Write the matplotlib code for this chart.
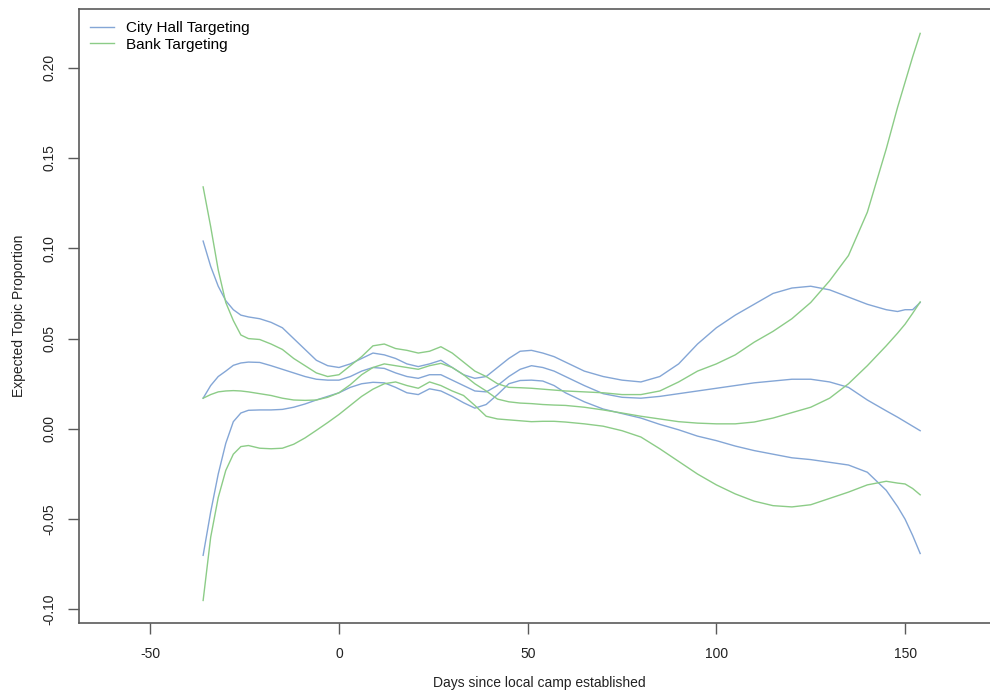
import matplotlib
matplotlib.use("Agg")
import matplotlib.pyplot as plt
import numpy as np

plt.rcParams['font.family'] = ['Liberation Sans', 'DejaVu Sans']

# Days since local camp established (shared grid for all estimates)
days = [-36, -34, -32, -30, -28, -26, -24, -21, -18, -15, -12, -9, -6, -3,
        0, 3, 6, 9, 12, 15, 18, 21, 24, 27, 30, 33, 36, 39, 42, 45, 48, 51,
        54, 57, 60, 65, 70, 75, 80, 85, 90, 95, 100, 105, 110, 115, 120, 125,
        130, 135, 140, 145, 148, 150, 152, 154]

# City Hall Targeting: upper bound, point estimate, lower bound
city_upper = [0.104, 0.090, 0.079, 0.071, 0.066, 0.063, 0.062, 0.061, 0.059, 0.056,
              0.050, 0.044, 0.038, 0.035, 0.034, 0.036, 0.039, 0.042, 0.041, 0.039,
              0.036, 0.0345, 0.036, 0.038, 0.034, 0.030, 0.028, 0.029, 0.034, 0.039,
              0.043, 0.0435, 0.042, 0.040, 0.037, 0.032, 0.029, 0.027, 0.026, 0.029,
              0.036, 0.047, 0.056, 0.063, 0.069, 0.075, 0.078, 0.079, 0.077, 0.073,
              0.069, 0.066, 0.065, 0.066, 0.066, 0.070]
city_mean = [0.017, 0.024, 0.029, 0.032, 0.0352, 0.0365, 0.037, 0.0368, 0.035, 0.033,
             0.031, 0.029, 0.0275, 0.027, 0.027, 0.029, 0.032, 0.034, 0.0335, 0.031,
             0.029, 0.028, 0.030, 0.030, 0.027, 0.024, 0.021, 0.0205, 0.024, 0.029,
             0.033, 0.035, 0.034, 0.032, 0.029, 0.024, 0.0195, 0.0175, 0.017, 0.018,
             0.0195, 0.021, 0.0225, 0.024, 0.0255, 0.0265, 0.0275, 0.0275, 0.026, 0.023,
             0.016, 0.010, 0.0065, 0.004, 0.0015, -0.001]
city_lower = [-0.070, -0.046, -0.025, -0.008, 0.004, 0.0088, 0.0103, 0.0105, 0.0105, 0.0108,
              0.012, 0.0138, 0.016, 0.018, 0.020, 0.023, 0.025, 0.0258, 0.0255, 0.023,
              0.020, 0.019, 0.0222, 0.021, 0.018, 0.0145, 0.0115, 0.0135, 0.019, 0.025,
              0.0268, 0.027, 0.0265, 0.024, 0.020, 0.015, 0.011, 0.0085, 0.006, 0.0025,
              -0.0005, -0.004, -0.0065, -0.0095, -0.012, -0.014, -0.016, -0.017, -0.0185, -0.020,
              -0.024, -0.034, -0.043, -0.050, -0.059, -0.069]

# Bank Targeting: upper bound, point estimate, lower bound
bank_upper = [0.134, 0.112, 0.088, 0.070, 0.060, 0.052, 0.050, 0.0495, 0.047, 0.044,
              0.039, 0.035, 0.031, 0.029, 0.030, 0.035, 0.040, 0.046, 0.047, 0.0445,
              0.0435, 0.042, 0.043, 0.0455, 0.042, 0.037, 0.032, 0.029, 0.025, 0.023,
              0.0228, 0.0225, 0.022, 0.0215, 0.021, 0.0205, 0.020, 0.019, 0.019, 0.021,
              0.026, 0.032, 0.036, 0.041, 0.048, 0.054, 0.061, 0.070, 0.082, 0.096,
              0.120, 0.155, 0.178, 0.192, 0.206, 0.219]
bank_mean = [0.017, 0.019, 0.0205, 0.021, 0.0212, 0.021, 0.0205, 0.0195, 0.0185, 0.017,
             0.016, 0.0158, 0.016, 0.0175, 0.020, 0.0245, 0.030, 0.034, 0.036, 0.035,
             0.034, 0.033, 0.035, 0.0363, 0.034, 0.030, 0.025, 0.021, 0.0165, 0.015,
             0.0143, 0.014, 0.0135, 0.0132, 0.013, 0.012, 0.0105, 0.0088, 0.007, 0.0055,
             0.004, 0.0032, 0.0028, 0.0028, 0.0038, 0.006, 0.009, 0.012, 0.017, 0.025,
             0.035, 0.046, 0.053, 0.058, 0.064, 0.0703]
bank_lower = [-0.095, -0.060, -0.038, -0.023, -0.014, -0.0098, -0.0092, -0.0107, -0.011, -0.0107,
              -0.0085, -0.005, -0.0008, 0.0035, 0.008, 0.013, 0.018, 0.022, 0.025, 0.026,
              0.024, 0.0225, 0.026, 0.024, 0.021, 0.0185, 0.013, 0.007, 0.0055, 0.005,
              0.0045, 0.004, 0.0042, 0.0042, 0.0038, 0.0028, 0.0015, -0.001, -0.0045, -0.011,
              -0.018, -0.025, -0.031, -0.036, -0.040, -0.0425, -0.0432, -0.042, -0.0385, -0.035,
              -0.031, -0.029, -0.030, -0.0305, -0.033, -0.0365]

series_labels = ["City Hall Targeting", "Bank Targeting"]
x_ticks = [-50, 0, 50, 100, 150]
y_ticks = [-0.10, -0.05, 0.00, 0.05, 0.10, 0.15, 0.20]

blue = "#84a6d6"
green = "#8ccc87"

fig = plt.figure(figsize=(9.9, 6.94), dpi=100)
ax = fig.add_axes([0.0798, 0.1023, 0.93, 0.8843])

lw = 1.0
ax.plot(days, city_upper, color=blue, lw=lw)
ax.plot(days, city_mean, color=blue, lw=lw, label=series_labels[0])
ax.plot(days, city_lower, color=blue, lw=lw)
ax.plot(days, bank_upper, color=green, lw=lw)
ax.plot(days, bank_mean, color=green, lw=lw, label=series_labels[1])
ax.plot(days, bank_lower, color=green, lw=lw)

ax.set_xlim(-68.89, 175.07)
ax.set_ylim(-0.10748, 0.23234)

ax.set_xticks(x_ticks)
ax.set_xticklabels([f"{t:d}" for t in x_ticks])
ax.set_yticks(y_ticks)
ax.set_yticklabels([f"{t:.2f}" for t in y_ticks], rotation=90, va="center")

spine_col = "#5a5a5a"
for side in ["left", "bottom", "top"]:
    ax.spines[side].set_color(spine_col)
    ax.spines[side].set_linewidth(1.2)
ax.spines["right"].set_visible(False)
ax.tick_params(axis="both", direction="out", length=8, width=1.0, color=spine_col,
               labelsize=10, labelcolor="#222222")
ax.tick_params(axis="x", pad=9)
ax.tick_params(axis="y", pad=8)

ax.set_xlabel("Days since local camp established", fontsize=10, color="#222222", labelpad=11)
ax.set_ylabel("Expected Topic Proportion", fontsize=10, color="#222222", labelpad=12)

ax.legend(loc="upper left", bbox_to_anchor=(90 / 990, 1 - 21 / 694),
          bbox_transform=fig.transFigure, frameon=False, fontsize=11,
          handlelength=1.6, handletextpad=0.75, labelspacing=0.17,
          borderpad=0, borderaxespad=0)

fig.savefig("out.png", dpi=100)
